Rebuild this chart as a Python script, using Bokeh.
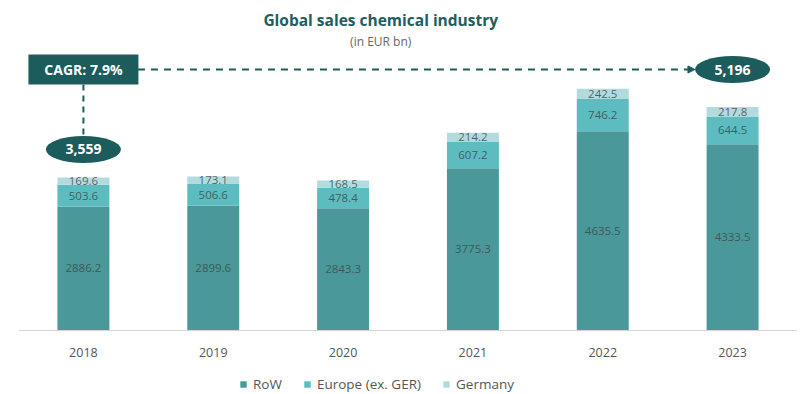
from bokeh.plotting import figure
from bokeh.models import (ColumnDataSource, Range1d, FactorRange, Legend, LegendItem,
                          Arrow, NormalHead, Span)
from bokeh.core.properties import value
from bokeh.embed import file_html
from bokeh.resources import INLINE

# ---- data ----
years = ["2018", "2019", "2020", "2021", "2022", "2023"]
row = [2886.2, 2899.6, 2843.3, 3775.3, 4635.5, 4333.5]
europe = [503.6, 506.6, 478.4, 607.2, 746.2, 644.5]
germany = [169.6, 173.1, 168.5, 214.2, 242.5, 217.8]
series = ["RoW", "Europe (ex. GER)", "Germany"]
title_text = "Global sales chemical industry"
subtitle_text = "(in EUR bn)"

colors = ["#4a9899", "#5cbcc0", "#b2dbde"]
dark = "#1c5c5d"
FONT = "Open Sans"

totals = [r + e + g for r, e, g in zip(row, europe, germany)]
cagr = (totals[-1] / totals[0]) ** (1 / (len(years) - 1)) - 1

src = ColumnDataSource(dict(
    year=years, row=row, europe=europe, germany=germany,
    row_mid=[r / 2 for r in row],
    eu_mid=[r + e / 2 for r, e in zip(row, europe)],
    ge_mid=[r + e + g / 2 for r, e, g in zip(row, europe, germany)],
    row_lbl=[f"{v:.1f}" for v in row],
    eu_lbl=[f"{v:.1f}" for v in europe],
    ge_lbl=[f"{v:.1f}" for v in germany],
))

H = 394
BASE = 330          # baseline, px from top
PX_PER_UNIT = 0.043
Y_TOP = BASE / PX_PER_UNIT
Y_BOT = -(H - BASE) / PX_PER_UNIT

p = figure(x_range=FactorRange(*years), y_range=Range1d(Y_BOT, Y_TOP),
           width=797, height=H, output_backend="svg", toolbar_location=None,
           min_border_left=18, min_border_right=0, min_border_top=0, min_border_bottom=0)
p.outline_line_color = None
p.grid.visible = False
p.yaxis.visible = False
p.xaxis.visible = False

rs = p.vbar_stack(["row", "europe", "germany"], x="year", width=0.4, color=colors,
                  line_color=None, source=src)

for col, lbl in [("row_mid", "row_lbl"), ("eu_mid", "eu_lbl"), ("ge_mid", "ge_lbl")]:
    p.text(x="year", y=col, text=lbl, source=src, text_align="center",
           text_baseline="middle", text_font_size="11.5px", text_color="#3a4d4e",
           text_alpha=0.85, text_font=value(FONT))

# baseline and category labels
p.add_layout(Span(location=0, dimension="width", line_color="#d4d4d4", line_width=1))
p.text(x=years, y=[-22 / PX_PER_UNIT] * len(years), text=years, text_align="center",
       text_baseline="middle", text_font=value(FONT), text_font_size="12.5px",
       text_color="#555555")

# title
TX = 2.79
p.text(x=[TX], y=[(BASE - 19) / PX_PER_UNIT], text=[title_text], text_align="center",
       text_baseline="middle", text_font=value(FONT), text_font_style="bold",
       text_font_size="15.5px", text_color="#1f5e60")
p.text(x=[TX], y=[(BASE - 41) / PX_PER_UNIT], text=[subtitle_text], text_align="center",
       text_baseline="middle", text_font=value(FONT), text_font_size="12px",
       text_color="#666666")

# CAGR annotation
CAGR_Y = (BASE - 69) / PX_PER_UNIT
BOX_W, BOX_H = 110, 30
ELL_W, ELL_H = 75, 27
first_bubble_y = totals[0] + 650
box_bottom = CAGR_Y - (BOX_H / 2) / PX_PER_UNIT
bubble_top = first_bubble_y - (ELL_H / 2) / PX_PER_UNIT

p.segment(x0=[years[0]], y0=[box_bottom], x1=[years[0]], y1=[bubble_top],
          line_color=dark, line_width=2, line_dash="6 5")
p.add_layout(Arrow(x_start=0.92, y_start=CAGR_Y, x_end=5.21, y_end=CAGR_Y,
                   line_color=dark, line_width=2, line_dash="7 6",
                   end=NormalHead(size=7, fill_color=dark, line_color=dark)))

p.rect(x=[years[0]], y=[CAGR_Y], width=BOX_W, height=BOX_H, width_units="screen",
       height_units="screen", fill_color=dark, line_color=None)
p.text(x=[years[0]], y=[CAGR_Y], text=[f"CAGR: {cagr*100:.1f}%"], text_align="center",
       text_baseline="middle", text_color="white", text_font=value(FONT),
       text_font_style="bold", text_font_size="14px")

p.ellipse(x=[years[0], years[-1]], y=[first_bubble_y, CAGR_Y], width=ELL_W, height=ELL_H,
          width_units="screen", height_units="screen", fill_color=dark, line_color=None)
p.text(x=[years[0], years[-1]], y=[first_bubble_y, CAGR_Y],
       text=[f"{totals[0]:,.0f}", f"{totals[-1]:,.0f}"], text_align="center",
       text_baseline="middle", text_color="white", text_font=value(FONT),
       text_font_style="bold", text_font_size="14px")

legend = Legend(items=[LegendItem(label=s, renderers=[r]) for s, r in zip(series, rs)],
                orientation="horizontal", location=(221, 1),
                label_text_font=FONT, label_text_font_size="13.5px", label_text_color="#555555",
                glyph_width=8, glyph_height=8, spacing=21, padding=3, margin=0,
                border_line_color=None, background_fill_alpha=0, label_standoff=6)
p.add_layout(legend)

open("out.html", "w").write(file_html(p, INLINE))
